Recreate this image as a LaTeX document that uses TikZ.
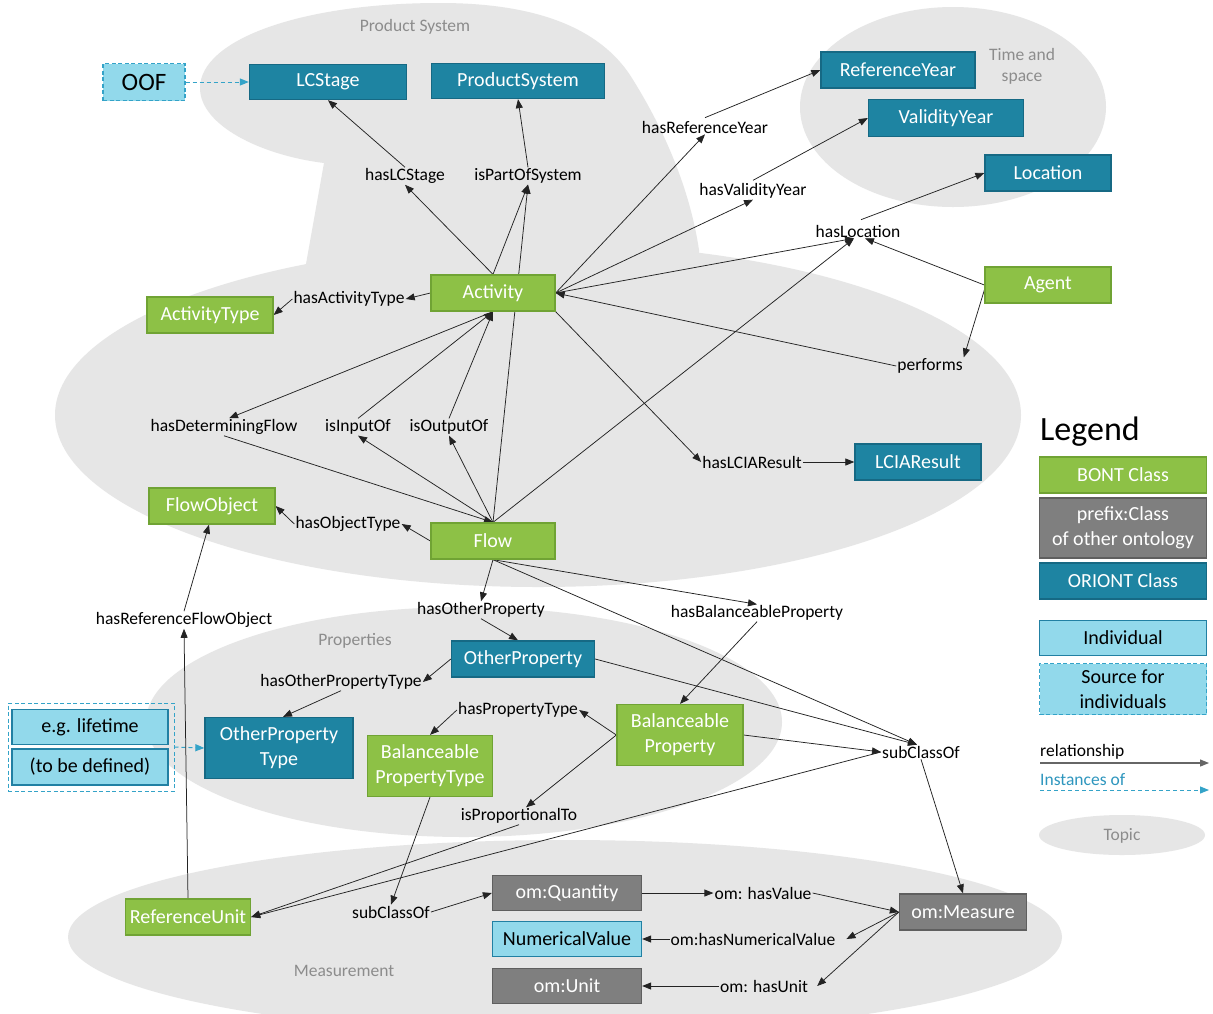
\documentclass[tikz,border=0pt]{standalone}
\usepackage{fontspec}
\setmainfont{Carlito}
\usetikzlibrary{arrows.meta,calc}

\definecolor{bontgreen}{RGB}{141,193,70}
\definecolor{bontedge}{RGB}{112,163,52}
\definecolor{oriont}{RGB}{30,132,162}
\definecolor{oriontedge}{RGB}{22,105,132}
\definecolor{omgray}{RGB}{127,127,127}
\definecolor{omedge}{RGB}{95,95,95}
\definecolor{indfill}{RGB}{146,217,235}
\definecolor{indedge}{RGB}{33,128,163}
\definecolor{srcedge}{RGB}{52,163,200}
\definecolor{topicfill}{RGB}{230,230,230}
\definecolor{topictext}{RGB}{140,140,140}
\definecolor{instcol}{RGB}{46,150,190}
\definecolor{linecol}{RGB}{35,35,35}

\pgfdeclarelayer{bg}
\pgfdeclarelayer{lines}
\pgfsetlayers{bg,lines,main}

\tikzset{
  box/.style={draw, line width=1.3pt, minimum height=36pt, inner sep=2pt,
    font=\fontsize{20}{25}\selectfont, text=white, align=center},
  bont/.style={box, fill=bontgreen, draw=bontedge},
  oriontcls/.style={box, fill=oriont, draw=oriontedge},
  omcls/.style={box, fill=omgray, draw=omedge},
  indiv/.style={box, fill=indfill, draw=indedge, text=black},
  source/.style={box, fill=indfill, draw=srcedge, dashed, dash pattern=on 4pt off 2.5pt, text=black},
  lab/.style={font=\fontsize{17.5}{20}\selectfont, inner sep=1pt, text=black},
  topiclabel/.style={font=\fontsize{17.5}{21}\selectfont, text=topictext, align=center},
  arr/.style={line width=0.75pt, draw=linecol, -{Triangle[length=9pt,width=7pt]}},
  inst/.style={line width=1pt, draw=srcedge, dash pattern=on 4pt off 3pt,
    -{Triangle[length=9pt,width=7pt]}},
}

\begin{document}
\begin{tikzpicture}[x=1pt,y=-1pt]
\useasboundingbox (0,0) rectangle (1213,1013);

% ---------- topic areas ----------
\begin{pgfonlayer}{bg}
  \fill[white] (0,0) rectangle (1213,1013);
  \begin{scope}
    \clip (0,0) rectangle (1213,1013);
    \fill[topicfill] (538,415) ellipse [x radius=483, y radius=172];
    \fill[topicfill] (301,292) -- (324,163)
      .. controls (260,155) and (200,125) .. (200,88)
      .. controls (200,40) and (300,3) .. (440,3)
      .. controls (540,3) and (600,30) .. (630,75)
      .. controls (665,130) and (690,190) .. (699,250)
      -- (699,292) -- cycle;
    \fill[topicfill] (953,107) ellipse [x radius=153, y radius=100];
    \fill[topicfill] (464,722) ellipse [x radius=318, y radius=115];
    \fill[topicfill] (565,937) ellipse [x radius=497, y radius=97];
    \fill[topicfill] (1122,835) ellipse [x radius=83, y radius=20];
  \end{scope}
\end{pgfonlayer}

\node[topiclabel] (tPS) at (415,27) {Product System};
\node[topiclabel] (tTS) at (1022,66) {Time and\\space};
\node[topiclabel] (tPr) at (355,641) {Properties};
\node[topiclabel] (tMe) at (344,971) {Measurement};

% ---------- class nodes ----------
\node[source, minimum width=82pt, minimum height=37pt, font=\fontsize{25}{28}\selectfont] (oof) at (144,82) {OOF};
\node[oriontcls, minimum width=157pt, minimum height=35pt] (lcs) at (328,82) {LCStage};
\node[oriontcls, minimum width=173pt, minimum height=35pt] (ps) at (518,81) {ProductSystem};
\node[oriontcls, minimum width=154pt] (ry) at (898,70) {ReferenceYear};
\node[oriontcls, minimum width=155pt, minimum height=37pt] (vy) at (946,118) {ValidityYear};
\node[oriontcls, minimum width=126pt] (loc) at (1048,173) {Location};
\node[bont, minimum width=126pt] (agent) at (1048,285) {Agent};
\node[bont, minimum width=124pt] (act) at (493,293) {Activity};
\node[bont, minimum width=126pt] (at) at (210,315) {ActivityType};
\node[bont, minimum width=126pt] (fo) at (212,506) {FlowObject};
\node[bont, minimum width=124pt] (flow) at (493,541) {Flow};
\node[oriontcls, minimum width=126pt] (lcia) at (918,462) {LCIAResult};
\node[oriontcls, minimum width=143pt] (op) at (523,659) {OtherProperty};
\node[oriontcls, minimum width=148pt, minimum height=61pt] (opt) at (279,748) {OtherProperty\\Type};
\node[bont, minimum width=125pt, minimum height=61pt] (bpt) at (430,766) {Balanceable\\PropertyType};
\node[bont, minimum width=126pt, minimum height=61pt] (bp) at (680,735) {Balanceable\\Property};
\node[indiv, minimum width=156pt, minimum height=35pt] (life) at (90,727) {e.g. lifetime};
\node[indiv, minimum width=156pt, minimum height=36pt] (tbd) at (90,767) {(to be defined)};
\node[draw=srcedge, line width=1pt, dash pattern=on 4pt off 2.5pt, minimum width=166pt, minimum height=88pt, inner sep=0pt] (indgroup) at (91,747) {};
\node[bont, minimum width=125pt] (ru) at (188,917) {ReferenceUnit};
\node[omcls, minimum width=149pt, minimum height=35pt] (qty) at (567,893) {om:Quantity};
\node[indiv, minimum width=149pt, minimum height=35pt] (nv) at (567,939) {NumericalValue};
\node[omcls, minimum width=149pt, minimum height=35pt] (unit) at (567,986) {om:Unit};
\node[omcls, minimum width=127pt] (meas) at (963,912) {om:Measure};

% ---------- relation labels ----------
\node[lab] (lLCS) at (405,176) {hasLCStage};
\node[lab] (lIPS) at (528,176) {isPartOfSystem};
\node[lab] (lRY) at (705,127) {hasReferenceYear};
\node[lab] (lVY) at (753,191) {hasValidityYear};
\node[lab] (lLoc) at (858,231) {hasLocation};
\node[lab] (lAT) at (349,299) {hasActivityType};
\node[lab] (lPerf) at (930,366) {performs};
\node[lab] (lDF) at (224,427) {hasDeterminingFlow};
\node[lab] (lIn) at (358,427) {isInputOf};
\node[lab] (lOut) at (449,427) {isOutputOf};
\node[lab] (lLCIA) at (752,462) {hasLCIAResult};
\node[lab] (lOT) at (348,524) {hasObjectType};
\node[lab] (lOP) at (481,610) {hasOtherProperty};
\node[lab] (lBP) at (757,613) {hasBalanceableProperty};
\node[lab] (lRFO) at (184,620) {hasReferenceFlowObject};
\node[lab] (lOPT) at (341,682) {hasOtherPropertyType};
\node[lab] (lPT) at (518,710) {hasPropertyType};
\node[lab] (lSC) at (921,752) {subClassOf};
\node[lab] (lProp) at (519,816) {isProportionalTo};
\node[lab] (lSC2) at (391,912) {subClassOf};
\node[lab] (lHV) at (763,893) {om: hasValue};
\node[lab] (lNV) at (753,939) {om:hasNumericalValue};
\node[lab] (lHU) at (764,986) {om: hasUnit};

% ---------- relations ----------
\begin{pgfonlayer}{lines}
  \draw[inst] (oof.east) -- (lcs.west);
  \draw[inst] (indgroup.east) -- (opt.west);

  \draw[arr] (act.north) -- (lLCS.south);
  \draw[arr] (lLCS.north) -- (lcs.south);
  \draw[arr] (act.north) -- (lIPS.south);
  \draw[arr] (flow.north) -- (lIPS.south);
  \draw[arr] (lIPS.north) -- (ps.south);
  \draw[arr] (act.east) -- (lRY.south);
  \draw[arr] ([yshift=2pt]lRY.north) -- (ry.west);
  \draw[arr] (act.east) -- (lVY.south);
  \draw[arr] ([yshift=2pt]lVY.north) -- (vy.west);
  \draw[arr] (act.east) -- ([xshift=-4pt]lLoc.south);
  \draw[arr] (flow.north) -- ([xshift=-4pt]lLoc.south);
  \draw[arr] (agent.west) -- ([xshift=7pt]lLoc.south);
  \draw[arr] ([xshift=3pt,yshift=4pt]lLoc.north) -- (loc.west);
  \draw[arr] (act.west) -- (lAT.east);
  \draw[arr] (lAT.west) -- (at.east);
  \draw[arr] ([yshift=-5pt]agent.west) -- (lPerf.north east);
  \draw[arr] (lPerf.west) -- (act.east);
  \draw[arr] (act.south east) -- (lLCIA.west);
  \draw[arr] (lLCIA.east) -- (lcia.west);
  \draw[arr] (act.south) -- ([xshift=5pt]lDF.north);
  \draw[arr] (lDF.south) -- (flow.north);
  \draw[arr] (flow.north) -- (lIn.south);
  \draw[arr] (lIn.north) -- (act.south);
  \draw[arr] (flow.north) -- (lOut.south);
  \draw[arr] (lOut.north) -- (act.south);
  \draw[arr] (flow.west) -- (lOT.east);
  \draw[arr] (lOT.west) -- (fo.east);
  \draw[arr] (flow.south) -- (lOP.north);
  \draw[arr] (lOP.south) -- ([xshift=-5pt]op.north);
  \draw[arr] (flow.south) -- (lBP.north);
  \draw[arr] (lBP.south) -- (bp.north);
  \draw[arr] (flow.south) -- ([xshift=-4pt]lSC.north);
  \draw[arr] (op.east) -- ([xshift=-4pt]lSC.north);
  \draw[arr] (bp.east) -- (lSC.west);
  \draw[arr] (lSC.west) -- (ru.east);
  \draw[arr] (lSC.south) -- (meas.north);
  \draw[arr] (op.west) -- (lOPT.east);
  \draw[arr] (lOPT.south) -- ([xshift=4pt]opt.north);
  \draw[arr] (bp.west) -- (lPT.east);
  \draw[arr] (lPT.west) -- (bpt.north);
  \draw[arr] (bp.west) -- ([xshift=7pt]lProp.north);
  \draw[arr] (lProp.south) -- (ru.east);
  \draw[arr] (bpt.south) -- (lSC2.north);
  \draw[arr] (lSC2.east) -- (qty.west);
  \draw[arr] (ru.north) -- (lRFO.south);
  \draw[arr] (lRFO.north) -- ([xshift=-3pt]fo.south);
  \draw[arr] (qty.east) -- (lHV.west);
  \draw[arr] (lHV.east) -- (meas.west);
  \draw[arr] (meas.west) -- ([xshift=10pt]lNV.east);
  \draw[arr] (lNV.west) -- (nv.east);
  \draw[arr] (meas.west) -- ([xshift=8pt]lHU.east);
  \draw[arr] (lHU.west) -- (unit.east);
\end{pgfonlayer}

% ---------- legend ----------
\node[anchor=west, inner sep=0pt, font=\fontsize{34}{40}\selectfont] (legtitle) at (1040,432) {Legend};
\node[bont, minimum width=167pt] (kBont) at (1123,475) {BONT Class};
\node[omcls, minimum width=167pt, minimum height=60pt] (kOther) at (1123,528) {prefix:Class\\of other ontology};
\node[oriontcls, minimum width=167pt] (kOri) at (1123,581) {ORIONT Class};
\node[indiv, minimum width=167pt, minimum height=35pt] (kInd) at (1123,638) {Individual};
\node[source, minimum width=167pt, minimum height=51pt] (kSrc) at (1123,689) {Source for\\individuals};
\node[lab, anchor=west] (kRel) at (1039,752) {relationship};
\node[lab, anchor=west, text=instcol] (kInst) at (1039,780) {Instances of};
\node[topiclabel] (kTopic) at (1122,836) {Topic};
\coordinate (relA) at (1040,763);
\coordinate (relB) at (1209,763);
\coordinate (instA) at (1040,790);
\coordinate (instB) at (1209,790);
\draw[line width=1.2pt, draw=black!60, -{Triangle[length=9pt,width=7pt]}] (relA) -- (relB);
\draw[inst] (instA) -- (instB);
\end{tikzpicture}
\end{document}
